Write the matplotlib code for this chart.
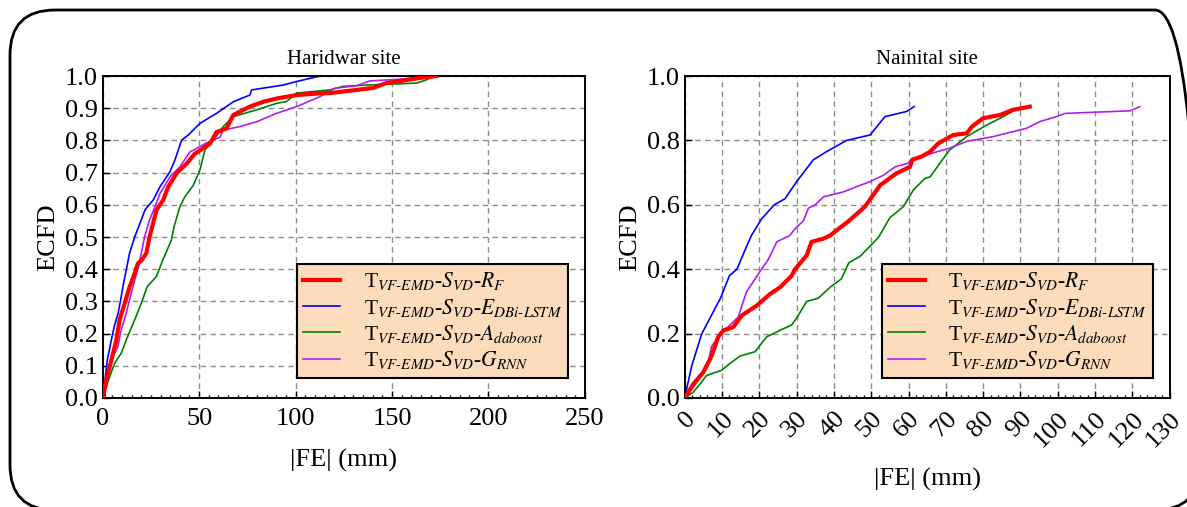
import matplotlib.pyplot as plt
import matplotlib.patches as mpatches
from matplotlib.ticker import MultipleLocator

plt.rcParams['font.family'] = 'Liberation Serif'
plt.rcParams['mathtext.fontset'] = 'stix'

# ECDF traces for the Haridwar site: |FE| (mm) and cumulative fraction
har_rf_x = [0, 0.2, 1.9, 4.5, 7.1, 8.8, 11.4, 14, 15.7, 18.3, 20.2, 22.6, 24.3, 27.9, 31.4, 34,
            38.3, 43.5, 47.8, 55.6, 59, 64.2, 67.7, 76.3, 83.2, 90, 100.5, 114.3, 117.7, 140.2,
            147, 164.4, 173]
har_rf_y = [0, 0.004, 0.056, 0.118, 0.18, 0.243, 0.294, 0.346, 0.372, 0.418, 0.428, 0.449, 0.5,
            0.584, 0.615, 0.656, 0.698, 0.728, 0.759, 0.79, 0.826, 0.837, 0.879, 0.905, 0.92,
            0.93, 0.941, 0.947, 0.947, 0.963, 0.978, 0.994, 1.0]

har_lstm_x = [0, 1.2, 1.4, 2.4, 4.5, 5.9, 8, 9.3, 10.5, 12.2, 13.9, 16.6, 20, 21.9, 26.2, 29.7,
              34.9, 37.5, 40.9, 44.4, 50.4, 59, 67.7, 76.3, 77.2, 93.6, 100.5, 112.6]
har_lstm_y = [0, 0.004, 0.066, 0.118, 0.18, 0.22, 0.263, 0.304, 0.346, 0.397, 0.449, 0.5, 0.553,
              0.584, 0.615, 0.656, 0.703, 0.74, 0.801, 0.817, 0.853, 0.884, 0.92, 0.941, 0.957,
              0.972, 0.983, 1.0]

har_ada_x = [0, 0.2, 3.6, 6.2, 9.6, 12.2, 16.6, 20, 23.1, 27.8, 31.2, 35.6, 37, 40, 42.6, 46.9,
             50.4, 53, 57.3, 62.5, 67.7, 79.8, 90, 95.3, 100.5, 117.7, 124.7, 140.2, 162.6,
             167.8, 171.3]
har_ada_y = [0, 0.004, 0.066, 0.108, 0.139, 0.18, 0.243, 0.294, 0.346, 0.377, 0.429, 0.49, 0.532,
             0.594, 0.625, 0.66, 0.708, 0.77, 0.8, 0.843, 0.874, 0.895, 0.915, 0.921, 0.947,
             0.957, 0.968, 0.973, 0.978, 0.988, 1.0]

har_grnn_x = [0, 0.2, 1.9, 4.5, 7.9, 9.6, 12.2, 13.9, 15.7, 18, 20, 21.7, 24.3, 27.1, 29.7, 34.9,
              40, 45.2, 54.7, 60.8, 62.5, 71.1, 79.8, 90, 100.5, 112.6, 120.4, 131.6, 138.5,
              154, 173, 243]
har_grnn_y = [0, 0.004, 0.066, 0.118, 0.16, 0.211, 0.263, 0.304, 0.346, 0.397, 0.449, 0.5, 0.553,
              0.594, 0.635, 0.687, 0.718, 0.764, 0.795, 0.81, 0.832, 0.843, 0.858, 0.884, 0.905,
              0.936, 0.962, 0.97, 0.985, 0.99, 1.0, 1.0]

# ECDF traces for the Nainital site
nai_rf_x = [0, 2.3, 5, 7.2, 9, 10.4, 13, 15.3, 19.3, 22.9, 25.6, 28.7, 29.6, 32.7, 34, 37.2, 39,
            44, 48.3, 52.4, 56.8, 60.4, 61, 63.5, 65.8, 68, 72, 75.6, 77, 80, 84.5, 88, 92.5]
nai_rf_y = [0, 0.043, 0.08, 0.13, 0.19, 0.21, 0.22, 0.256, 0.287, 0.323, 0.344, 0.38, 0.4, 0.443,
            0.485, 0.495, 0.505, 0.55, 0.594, 0.661, 0.698, 0.718, 0.74, 0.75, 0.765, 0.791,
            0.817, 0.822, 0.843, 0.869, 0.879, 0.895, 0.905]

nai_lstm_x = [0, 1.9, 4.6, 9.6, 12, 14, 16.2, 17.9, 20.6, 24, 26.9, 30, 34.5, 38, 43.4, 49.7,
              53.7, 59.5, 61.5]
nai_lstm_y = [0, 0.1, 0.2, 0.31, 0.38, 0.4, 0.46, 0.505, 0.556, 0.6, 0.619, 0.672, 0.74, 0.765,
              0.8, 0.817, 0.874, 0.89, 0.905]

nai_ada_x = [0, 2.3, 4.1, 5.9, 9.9, 12.1, 14.8, 18.9, 20.6, 22, 25.5, 28.7, 30, 32.7, 35.8, 39,
             42, 44, 47, 50, 52, 55, 58.6, 61.3, 64.4, 65.8, 68.4, 71, 75.6, 81, 85.4, 88.6,
             92.6]
nai_ada_y = [0, 0.018, 0.043, 0.07, 0.086, 0.107, 0.13, 0.144, 0.17, 0.19, 0.21, 0.227, 0.248,
             0.3, 0.31, 0.344, 0.37, 0.42, 0.44, 0.475, 0.5, 0.56, 0.594, 0.646, 0.682, 0.687,
             0.729, 0.77, 0.812, 0.848, 0.874, 0.895, 0.905]

nai_grnn_x = [0, 2.3, 5, 6.3, 7.2, 9, 11.2, 14.4, 15.7, 16.6, 18.9, 20.6, 22.4, 24.7, 28.2, 29.6,
              31.8, 33.2, 35, 37.2, 42.5, 46, 49.7, 53.3, 56.4, 59.5, 63, 71, 75.6, 82.7, 91.7,
              95.3, 99.7, 102, 119.4, 122]
nai_grnn_y = [0, 0.033, 0.078, 0.11, 0.16, 0.19, 0.216, 0.252, 0.3, 0.33, 0.37, 0.4, 0.43, 0.485,
              0.505, 0.526, 0.55, 0.59, 0.6, 0.625, 0.64, 0.656, 0.672, 0.692, 0.718, 0.728,
              0.749, 0.776, 0.797, 0.812, 0.838, 0.859, 0.874, 0.884, 0.892, 0.905]

labels = [r'T$_{VF\text{-}EMD}$-$S_{VD}$-$R_F$',
          r'T$_{VF\text{-}EMD}$-$S_{VD}$-$E_{DBi\text{-}LSTM}$',
          r'T$_{VF\text{-}EMD}$-$S_{VD}$-$A_{daboost}$',
          r'T$_{VF\text{-}EMD}$-$S_{VD}$-$G_{RNN}$']
colors = ['#ff0000', '#0000ff', '#008000', '#b01ff0']
widths = [3.0, 1.2, 1.2, 1.2]

fig = plt.figure(figsize=(11.87, 5.07), dpi=100)
ax1 = fig.add_axes([0.0865, 0.215, 0.4063, 0.635])
ax2 = fig.add_axes([0.5768, 0.215, 0.4086, 0.635])

har = [(har_rf_x, har_rf_y), (har_lstm_x, har_lstm_y), (har_ada_x, har_ada_y), (har_grnn_x, har_grnn_y)]
nai = [(nai_rf_x, nai_rf_y), (nai_lstm_x, nai_lstm_y), (nai_ada_x, nai_ada_y), (nai_grnn_x, nai_grnn_y)]

for ax, series, title in [(ax1, har, 'Haridwar site'), (ax2, nai, 'Nainital site')]:
    for (x, y), lab, c, lw in zip(series, labels, colors, widths):
        ax.plot(x, y, color=c, lw=lw, label=lab, zorder=3 if lw > 2 else 2)
    ax.grid(True, color='#8c8c8c', ls=(0, (4, 3)), lw=1.0)
    ax.set_ylim(0, 1.0)
    ax.set_title(title, fontsize=15, pad=9)
    ax.tick_params(which='both', direction='in', labelsize=19)
    ax.tick_params(which='major', length=5, width=1.0)
    ax.tick_params(which='minor', length=2.5, width=1.0)
    ax.tick_params(axis='x', which='major', pad=7)
    for s in ax.spines.values():
        s.set_linewidth(1.4)
    leg = ax.legend(loc='lower right', fontsize=15.5, frameon=True, fancybox=False,
                    facecolor='#fddcbc', edgecolor='black', framealpha=1.0,
                    handlelength=1.7, borderpad=0.3, labelspacing=0.2, handletextpad=1.1,
                    bbox_to_anchor=(0.988, 0.03))
    leg.get_frame().set_linewidth(1.5)

ax1.set_xlim(0, 250)
ax1.xaxis.set_major_locator(MultipleLocator(50))
ax1.xaxis.set_minor_locator(MultipleLocator(5))
ax1.yaxis.set_major_locator(MultipleLocator(0.1))
ax1.set_xlabel('|FE| (mm)', fontsize=19, labelpad=14)
ax1.set_ylabel('ECFD', fontsize=19, labelpad=4)

ax2.set_xlim(0, 130)
ax2.xaxis.set_major_locator(MultipleLocator(10))
ax2.xaxis.set_minor_locator(MultipleLocator(2))
ax2.yaxis.set_major_locator(MultipleLocator(0.2))
for t in ax2.get_xticklabels():
    t.set_rotation(45)
    t.set_ha('right')
    t.set_va('top')
    t.set_rotation_mode('anchor')
ax2.set_xlabel('|FE| (mm)', fontsize=19, labelpad=12)
ax2.set_ylabel('ECFD', fontsize=19, labelpad=4)

# rounded frame around both panels, sized in inches
frame = mpatches.FancyBboxPatch((0.10, -0.03), 11.90, 5.00,
                                boxstyle='round,pad=0,rounding_size=0.45',
                                transform=fig.dpi_scale_trans, fill=False,
                                edgecolor='black', lw=2.0)
fig.patches.append(frame)

fig.savefig('out.png', dpi=100)
